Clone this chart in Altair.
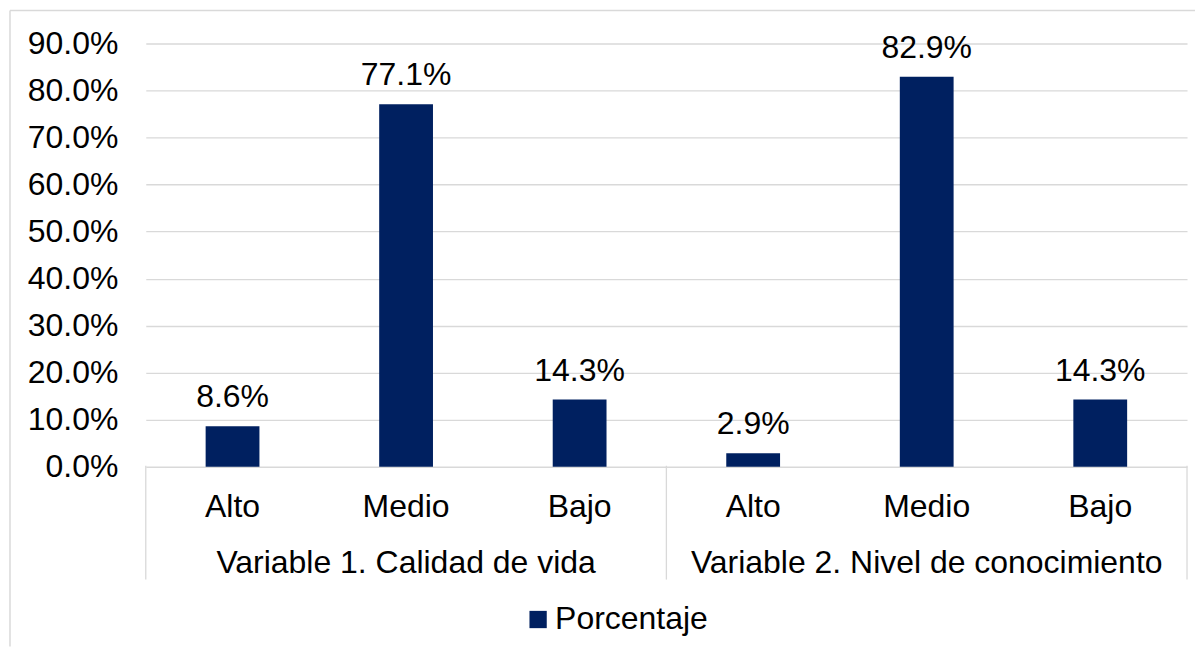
import altair as alt
import pandas as pd

# ---- data ----
grupos = ["Variable 1. Calidad de vida", "Variable 2. Nivel de conocimiento"]
grupo_tags = ["V1", "V2"]
niveles = ["Alto", "Medio", "Bajo"]
valores_v1 = [0.086, 0.771, 0.143]
valores_v2 = [0.029, 0.829, 0.143]
serie = "Porcentaje"
y_ticks = [0.0, 0.1, 0.2, 0.3, 0.4, 0.5, 0.6, 0.7, 0.8, 0.9]

rows = []
for tag, g, vals in zip(grupo_tags, grupos, [valores_v1, valores_v2]):
    for n, v in zip(niveles, vals):
        rows.append({"key": f"{tag}|{n}", "nivel": n, "grupo": g, "valor": v, "serie": serie})
df = pd.DataFrame(rows)
order = list(df["key"])

FONT = "Liberation Sans"
GRID = "#d9d9d9"
BAR = "#002060"

x_axis = alt.Axis(
    title=None, labelExpr="split(datum.label, '|')[1]", ticks=False, domain=False,
    labelAngle=0, labelFontSize=32, labelPadding=40, labelBaseline="middle",
    labelColor="#000000", labelFont=FONT, grid=False,
)
x_scale = alt.Scale(paddingInner=0, paddingOuter=0)


def X(**kw):
    return alt.X("key:N", sort=order, scale=x_scale, axis=x_axis, **kw)


y_enc = alt.Y(
    "valor:Q",
    scale=alt.Scale(domain=[0, 0.9], nice=False),
    axis=alt.Axis(
        values=y_ticks, format=".1%", title=None, domain=False, ticks=False,
        gridColor=GRID, gridWidth=1.3, labelFontSize=32, labelPadding=28,
        labelColor="#000000", labelFont=FONT,
    ),
)

base = alt.Chart(df)

bars = base.mark_bar(width=alt.RelativeBandSize(0.31)).encode(
    x=X(),
    y=y_enc,
    color=alt.Color(
        "serie:N",
        scale=alt.Scale(range=[BAR]),
        legend=alt.Legend(
            title=None, orient="none", legendX=377, legendY=561,
            symbolType="square", symbolSize=300, symbolStrokeWidth=0,
            labelFontSize=32, labelOffset=1, labelColor="#000000",
            labelFont=FONT, padding=0,
        ),
    ),
)

labels = base.mark_text(dy=-29, baseline="middle", fontSize=32, font=FONT, color="#000000").encode(
    x=X(),
    y=alt.Y("valor:Q"),
    text=alt.Text("valor:Q", format=".1%"),
)

group_labels = alt.Chart(df[df["nivel"] == "Medio"]).mark_text(
    baseline="middle", fontSize=32, font=FONT, color="#000000"
).encode(
    x=X(),
    y=alt.value(520),
    text="grupo:N",
)

sep_start = alt.Chart(df[df["nivel"] == "Alto"]).mark_rule(color=GRID, strokeWidth=1.3).encode(
    x=X(bandPosition=0),
    y=alt.value(423),
    y2=alt.value(537),
)

sep_end = alt.Chart(df[df["key"] == order[-1]]).mark_rule(color=GRID, strokeWidth=1.3).encode(
    x=X(bandPosition=1),
    y=alt.value(423),
    y2=alt.value(537),
)

one = pd.DataFrame({"a": [0]})
border_top = alt.Chart(one).mark_rule(color=GRID, strokeWidth=1.5).encode(
    x=alt.value(-136), x2=alt.value(1051), y=alt.value(-33)
)
border_left = alt.Chart(one).mark_rule(color=GRID, strokeWidth=1.5).encode(
    x=alt.value(-136), y=alt.value(-33), y2=alt.value(604)
)

chart = (
    alt.layer(border_top, border_left, bars, labels, group_labels, sep_start, sep_end)
    .properties(width=1043, height=424, padding={"left": 1, "top": 1, "right": 0, "bottom": 0},
                background="white")
    .configure_view(stroke=None)
)

chart.save("out.html", embed_options={"renderer": "svg", "actions": False})
